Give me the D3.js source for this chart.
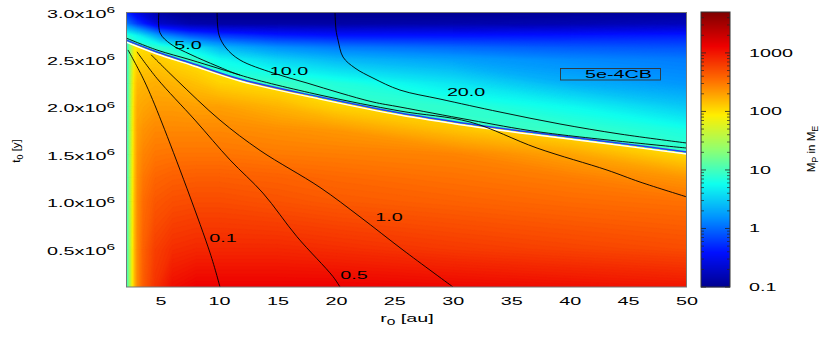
<!DOCTYPE html>
<html>
<head>
<meta charset="utf-8">
<script src="https://cdn.jsdelivr.net/npm/d3@7"></script>
<style>
body { margin: 0; background: #fff; }
text { font-family: "Liberation Sans", Arial, sans-serif; font-size: 11.5px; fill: #000; }
</style>
</head>
<body>
<svg id="chart" width="830" height="339"></svg>
<script>
// mass grid below the boundary: r0 [au] columns, t0 [y] rows, M_P in M_E
var lowR = [2, 2.25, 2.5, 2.75, 3, 3.5, 4.5, 6, 8, 10, 15, 20, 30, 40, 50];
var lowT = [0.1e6, 0.5e6, 1.0e6, 1.25e6, 1.5e6, 1.75e6, 2.0e6, 2.25e6, 2.5e6, 2.75e6, 3.0e6];
var lowMass = [
  [5, 18, 60, 150, 260, 420, 700, 1100, 1300, 1300, 1300, 1300, 1200, 1100, 1000],
  [5, 18, 60, 150, 255, 400, 600, 750, 800, 800, 800, 750, 650, 580, 520],
  [5, 18, 58, 145, 245, 350, 450, 500, 520, 520, 480, 440, 400, 360, 330],
  [5, 17, 56, 140, 235, 310, 380, 410, 420, 420, 400, 370, 330, 290, 220],
  [5, 17, 54, 135, 220, 270, 310, 320, 320, 320, 300, 290, 270, 190, 105],
  [5, 16, 52, 130, 200, 230, 260, 260, 260, 260, 240, 220, 140, 95, 90],
  [4.5, 15, 50, 125, 180, 190, 210, 210, 200, 200, 160, 115, 90, 90, 90],
  [4.5, 14, 46, 110, 150, 160, 170, 160, 140, 115, 95, 90, 90, 90, 90],
  [4, 13, 40, 90, 115, 120, 125, 110, 95, 90, 90, 90, 90, 90, 90],
  [4, 12, 35, 70, 80, 90, 95, 90, 90, 90, 90, 90, 90, 90, 90],
  [4, 12, 35, 65, 75, 85, 90, 90, 90, 90, 90, 90, 90, 90, 90]
];

// mass grid above the boundary
var upR = [2, 3, 5, 7.5, 10, 15, 20, 30, 40, 50];
var upT = [1.5e6, 1.75e6, 2.0e6, 2.25e6, 2.5e6, 2.625e6, 2.75e6, 2.875e6, 3.0e6];
var upMass = [
  [9, 9, 9, 9, 9, 9, 9, 9, 9, 9],
  [9, 9, 9, 9, 9, 9, 9, 9, 9, 6.5],
  [9, 9, 9, 9, 9, 9, 9, 8, 5.5, 3],
  [9, 9, 9, 9, 9, 9, 7, 4.2, 2.2, 1.6],
  [9, 9, 9, 9, 5.5, 3.3, 2.4, 1.8, 1.4, 1.2],
  [9, 9, 8, 4.5, 2.4, 1.5, 1.2, 1.0, 0.85, 0.8],
  [8, 5, 1.5, 0.8, 0.6, 0.45, 0.4, 0.4, 0.42, 0.45],
  [1.2, 0.6, 0.2, 0.14, 0.13, 0.13, 0.13, 0.14, 0.15, 0.17],
  [0.5, 0.25, 0.12, 0.1, 0.1, 0.1, 0.1, 0.1, 0.11, 0.12]
];

// boundary between the two regimes
var edgeR = [2, 4.65, 7.56, 11.75, 18.6, 25.44, 31.43, 37.17, 43.41, 50];
var edgeT = [2.705e6, 2.578e6, 2.462e6, 2.293e6, 2.103e6, 1.935e6, 1.819e6, 1.724e6, 1.629e6, 1.523e6];

// contour lines
var c01R = [2.17, 3.54, 5.08, 9.19, 10.04];
var c01T = [2.60e6, 2.28e6, 1.83e6, 0.46e6, 0.1e6];
var c05R = [2.94, 4.65, 7.90, 10.90, 13.72, 16.63, 19.71, 20.31];
var c05T = [2.58e6, 2.30e6, 1.86e6, 1.44e6, 1.09e6, 0.63e6, 0.21e6, 0.1e6];
var c1R = [4.14, 6.36, 10.04, 13.47, 18.60, 22.02, 25.70, 29.98];
var c1T = [2.55e6, 2.28e6, 1.86e6, 1.54e6, 1.15e6, 0.84e6, 0.49e6, 0.1e6];
var c5R = [4.82, 4.91, 5.85, 7.56, 9.79, 11.75, 18.6, 25.44, 31.43, 37.17, 43.16, 45.98, 50];
var c5T = [3.0e6, 2.78e6, 2.66e6, 2.55e6, 2.43e6, 2.335e6, 2.124e6, 1.956e6, 1.84e6, 1.565e6, 1.333e6, 1.207e6, 1.049e6];
var c5bR = [2, 4.65, 7.56, 11.75];
var c5bT = [2.726e6, 2.599e6, 2.494e6, 2.335e6];
var c10R = [9.79, 9.96, 10.56, 11.75, 14.58, 17.49, 20.31, 23.13, 25.44, 31.43, 37.42, 50];
var c10T = [3.0e6, 2.757e6, 2.62e6, 2.494e6, 2.357e6, 2.251e6, 2.146e6, 2.051e6, 1.998e6, 1.861e6, 1.734e6, 1.565e6];
var c20R = [19.88, 19.97, 20.14, 20.57, 21.59, 23.13, 25.44, 28.87, 34.0, 39.13, 44.27, 50];
var c20T = [3.0e6, 2.81e6, 2.705e6, 2.525e6, 2.409e6, 2.304e6, 2.177e6, 2.082e6, 1.945e6, 1.819e6, 1.713e6, 1.618e6];

var contourLabels = ['5.0', '10.0', '20.0', '1.0', '0.1', '0.5'];
var contourLabelR = [7.3, 15.95, 31.1, 24.5, 10.3, 21.5];
var contourLabelT = [2.652e6, 2.378e6, 2.156e6, 0.838e6, 0.616e6, 0.226e6];

var xTicks = [5, 10, 15, 20, 25, 30, 35, 40, 45, 50];
var yTicks = [0.5e6, 1.0e6, 1.5e6, 2.0e6, 2.5e6, 3.0e6];
var cbTicks = [0.1, 1, 10, 100, 1000];
var cbTickLabels = ['0.1', '1', '10', '100', '1000'];

// jet palette, even steps in log10(M)
var jet = ['#000090', '#000fff', '#0090ff', '#0fffee', '#90ff70', '#ffee00', '#ff7000', '#ee0000', '#7f0000'];

var svg = d3.select('#chart');
var x = d3.scaleLinear().domain([2, 50]).range([126, 687]);
var y = d3.scaleLinear().domain([0.1e6, 3.0e6]).range([287, 12]);
var cb = d3.scaleLog().domain([0.1, 5000]).range([287, 12]);
var logMin = -1, logMax = Math.log10(5000);
var color = d3.scaleLinear()
  .domain(jet.map(function(c, i) { return logMin + i * (logMax - logMin) / (jet.length - 1); }))
  .range(jet).clamp(true);
function massColor(v) { return color(Math.log10(v)); }

var STRETCH = 1.72;
function label(g, px, py, anchor) {
  return g.append('text')
    .attr('transform', 'translate(' + px + ',' + py + ') scale(' + STRETCH + ',1)')
    .attr('text-anchor', anchor);
}

var defs = svg.append('defs');
defs.append('clipPath').attr('id', 'plotclip').append('rect')
  .attr('x', 126).attr('y', 12).attr('width', 561).attr('height', 275);
var below = d3.area()
  .x(function(d, i) { return x(edgeR[i]); })
  .y0(y(0.1e6))
  .y1(function(d, i) { return y(edgeT[i]); });
defs.append('clipPath').attr('id', 'belowclip').append('path')
  .attr('d', below(edgeR)).attr('transform', 'translate(0,1.5)');

var levels = d3.range(-1, 3.72, 0.02);
function drawField(g, rs, ts, grid) {
  var n = rs.length, m = ts.length;
  var values = [];
  grid.forEach(function(row) { row.forEach(function(v) { values.push(Math.log10(v)); }); });
  var ri = d3.scaleLinear().domain(d3.range(n)).range(rs).clamp(true);
  var ti = d3.scaleLinear().domain(d3.range(m)).range(ts).clamp(true);
  var proj = d3.geoTransform({ point: function(px, py) {
    this.stream.point(x(ri(px - 0.5)), y(ti(py - 0.5)));
  }});
  var path = d3.geoPath(proj);
  var bands = d3.contours().size([n, m]).thresholds(levels)(values);
  g.selectAll('path').data(bands).enter().append('path')
    .attr('d', path)
    .attr('fill', function(d) { return color(d.value + 0.01); })
    .attr('stroke', function(d) { return color(d.value + 0.01); })
    .attr('stroke-width', 0.4);
}

var plotG = svg.append('g').attr('clip-path', 'url(#plotclip)');
plotG.append('rect').attr('x', 126).attr('y', 12).attr('width', 561).attr('height', 275)
  .attr('fill', massColor(0.1));
drawField(plotG.append('g'), upR, upT, upMass);
drawField(plotG.append('g').attr('clip-path', 'url(#belowclip)'), lowR, lowT, lowMass);

var line = d3.line().curve(d3.curveCatmullRom.alpha(0.5));
function pts(rs, ts) { return rs.map(function(r, i) { return [x(r), y(ts[i])]; }); }

// boundary: white edge under a blue line
plotG.append('path').attr('d', line(pts(edgeR, edgeT))).attr('fill', 'none')
  .attr('stroke', '#ffffff').attr('stroke-width', 1.4).attr('transform', 'translate(0,2)');
plotG.append('path').attr('d', line(pts(edgeR, edgeT))).attr('fill', 'none')
  .attr('stroke', '#2a3cf0').attr('stroke-width', 1.5);

[[c01R, c01T], [c05R, c05T], [c1R, c1T], [c5R, c5T], [c5bR, c5bT], [c10R, c10T], [c20R, c20T]]
  .forEach(function(c) {
    plotG.append('path').attr('d', line(pts(c[0], c[1]))).attr('fill', 'none')
      .attr('stroke', '#000').attr('stroke-width', 0.9);
  });

contourLabels.forEach(function(s, i) {
  label(svg, x(contourLabelR[i]), y(contourLabelT[i]) + 4.2, 'middle').text(s);
});

// key box
svg.append('rect').attr('x', 560.5).attr('y', 68.5).attr('width', 100).attr('height', 11.5)
  .attr('fill', 'none').attr('stroke', '#333').attr('stroke-width', 0.9);
label(svg, 652, 77.8, 'end').text('5e-4CB');

svg.append('rect').attr('x', 126.5).attr('y', 12.5).attr('width', 560).attr('height', 274.5)
  .attr('fill', 'none').attr('stroke', '#777').attr('stroke-width', 1);

// axes
xTicks.forEach(function(v) { label(svg, x(v), 305, 'middle').text(v); });
yTicks.forEach(function(v) {
  var t = label(svg, 115, y(v) + 5.5, 'end');
  t.append('tspan').text((v / 1e6).toFixed(1) + 'x10');
  t.append('tspan').attr('font-size', '9px').attr('dy', -4.5).text('6');
});

var xl = label(svg, 407, 322, 'middle');
xl.append('tspan').text('r');
xl.append('tspan').attr('font-size', '9px').attr('dy', 3).text('0');
xl.append('tspan').attr('dy', -3).text(' [au]');

var yl = svg.append('text').attr('transform', 'translate(20,151) rotate(-90)').attr('text-anchor', 'middle');
yl.append('tspan').text('t');
yl.append('tspan').attr('font-size', '9px').attr('dy', 3).text('0');
yl.append('tspan').attr('dy', -3).text(' [y]');

// colour bar
var cbG = svg.append('g');
d3.range(12, 287).forEach(function(py) {
  cbG.append('rect').attr('x', 701).attr('y', py).attr('width', 29).attr('height', 1.3)
    .attr('fill', massColor(cb.invert(py + 0.5)));
});
var minor = [];
cbTicks.forEach(function(d) { d3.range(2, 10).forEach(function(k) { if (k * d < 5000) minor.push(k * d); }); });
minor.forEach(function(v) {
  cbG.append('line').attr('x1', 701).attr('x2', 704).attr('y1', cb(v)).attr('y2', cb(v)).attr('stroke', '#222').attr('stroke-width', 0.7);
  cbG.append('line').attr('x1', 727).attr('x2', 730).attr('y1', cb(v)).attr('y2', cb(v)).attr('stroke', '#222').attr('stroke-width', 0.7);
});
cbTicks.forEach(function(v, i) {
  cbG.append('line').attr('x1', 701).attr('x2', 706).attr('y1', cb(v)).attr('y2', cb(v)).attr('stroke', '#222').attr('stroke-width', 0.8);
  cbG.append('line').attr('x1', 725).attr('x2', 730).attr('y1', cb(v)).attr('y2', cb(v)).attr('stroke', '#222').attr('stroke-width', 0.8);
  label(svg, 749, cb(v) + 4, 'start').text(cbTickLabels[i]);
});
cbG.append('rect').attr('x', 701).attr('y', 12).attr('width', 29).attr('height', 275)
  .attr('fill', 'none').attr('stroke', '#333').attr('stroke-width', 1);

var cl = svg.append('text').attr('transform', 'translate(815,149) rotate(-90)').attr('text-anchor', 'middle');
cl.append('tspan').text('M');
cl.append('tspan').attr('font-size', '9px').attr('dy', 3).text('P');
cl.append('tspan').attr('dy', -3).text(' in M');
cl.append('tspan').attr('font-size', '9px').attr('dy', 3).text('E');
</script>
</body>
</html>
